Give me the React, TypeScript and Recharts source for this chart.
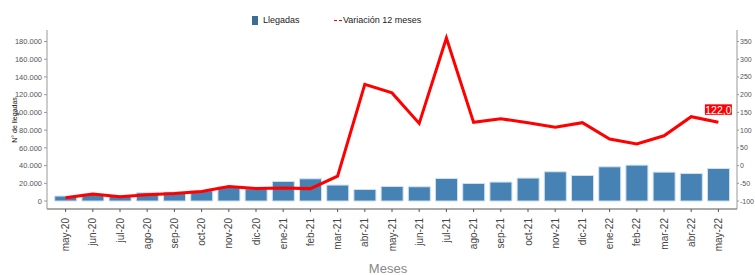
import React from "react";
import { ComposedChart, Bar, Line, XAxis, YAxis, LabelList } from "recharts";

const months = ["may-20","jun-20","jul-20","ago-20","sep-20","oct-20","nov-20","dic-20","ene-21","feb-21","mar-21","abr-21","may-21","jun-21","jul-21","ago-21","sep-21","oct-21","nov-21","dic-21","ene-22","feb-22","mar-22","abr-22","may-22"];
const llegadas = [5600,7900,6300,9300,10100,11600,15700,13800,22100,25100,18000,13000,16400,16100,25400,19800,21400,25900,33000,28800,38600,40500,32600,31000,36700];
const variacion = [-91,-80,-88,-82,-79,-73,-59,-65,-63,-65,-30,229,205,119,360,122,132,121,108,121,75,61,84,138,122];
const leftTicks = [0,20000,40000,60000,80000,100000,120000,140000,160000,180000];
const rightTicks = [-100,-50,0,50,100,150,200,250,300,350];

const data = months.map((m, i) => ({ mes: m, llegadas: llegadas[i], variacion: variacion[i] }));

const fmtThousands = (v: number) => v.toLocaleString("de-DE");
const FONT = "Liberation Sans, Arial, sans-serif";

const XTick = (props: any) => {
  const { x, y, payload } = props;
  return (
    <text x={x} y={y + 4} transform={`rotate(-90 ${x} ${y + 4})`} textAnchor="end" dominantBaseline="central" fontSize={10} fill="#444" fontFamily={FONT}>
      {payload.value}
    </text>
  );
};

const LastLabel = (props: any) => {
  const { x, y, index, value } = props;
  if (index !== months.length - 1) return null;
  const txt = Number(value).toFixed(1).replace(".", ",");
  return (
    <g>
      <rect x={x - 13.5} y={y - 18} width={27} height={10.5} fill="#ff0000" />
      <text x={x} y={y - 12.6} textAnchor="middle" dominantBaseline="central" fontSize={10.5} fill="#fff" fontFamily={FONT}>{txt}</text>
    </g>
  );
};

const LegendBox = () => (
  <div style={{ position: "absolute", left: 0, top: 0, width: 755, height: 30, fontFamily: FONT, fontSize: 9, color: "#222", pointerEvents: "none" }}>
    <div style={{ position: "absolute", left: 252, top: 16, width: 6, height: 9, background: "#3c6d99" }} />
    <div style={{ position: "absolute", left: 263, top: 15, lineHeight: "11px" }}>Llegadas</div>
    <div style={{ position: "absolute", left: 334, top: 20, width: 8, height: 0, borderTop: "1.3px dashed #ff0000" }} />
    <div style={{ position: "absolute", left: 343, top: 15, lineHeight: "11px" }}>Variación 12 meses</div>
  </div>
);

export default function App() {
  return (
    <div style={{ position: "absolute", left: 0, top: 0, width: 755, height: 275, background: "#fff" }}>
      <ComposedChart width={755} height={275} data={data} margin={{ top: 30, right: 0, bottom: 0, left: 0 }}>
        <XAxis dataKey="mes" height={66} tick={<XTick />} interval={0} tickSize={3} padding={{ left: 5, right: 5 }} stroke="#555" tickLine={{ stroke: "#555" }}
          label={() => <text x={388} y={268} textAnchor="middle" dominantBaseline="central" fontSize={13} fill="#888" fontFamily={FONT}>Meses</text>} />
        <YAxis yAxisId="left" width={47} domain={[-9000, 193000]} ticks={leftTicks} tickFormatter={fmtThousands} interval={0}
          tick={{ fontSize: 7.5, fill: "#555", fontFamily: FONT }} tickSize={3} stroke="#999" allowDataOverflow
          label={() => <text x={14} y={120} transform="rotate(-90 14 120)" textAnchor="middle" dominantBaseline="central" fontSize={7} fill="#111" fontFamily={FONT}>N° de llegadas</text>} />
        <YAxis yAxisId="right" orientation="right" width={18} domain={[-122.5, 382.5]} ticks={rightTicks} interval={0}
          tick={{ fontSize: 7, fill: "#555", fontFamily: FONT, textAnchor: "start" }} tickSize={2} tickMargin={1} stroke="#999" allowDataOverflow />
        <Bar yAxisId="left" dataKey="llegadas" fill="#4682b4" stroke="#cfe1f1" strokeWidth={1} barCategoryGap="10%" isAnimationActive={false} />
        <Line yAxisId="right" dataKey="variacion" stroke="#ff0000" strokeWidth={3} dot={false} type="linear" isAnimationActive={false}>
          <LabelList dataKey="variacion" content={<LastLabel />} />
        </Line>
      </ComposedChart>
      <LegendBox />
    </div>
  );
}
